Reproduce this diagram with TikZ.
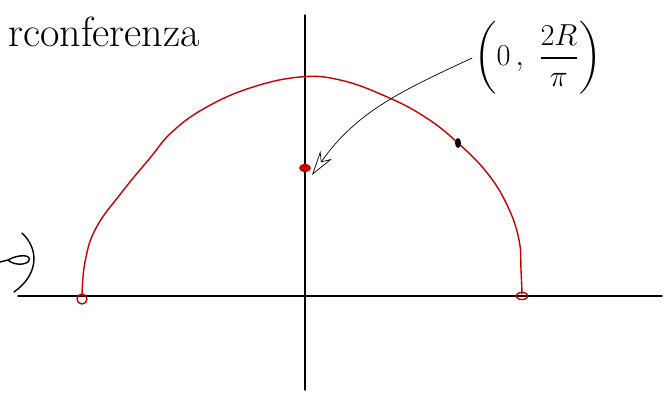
\documentclass[tikz,border=0pt]{standalone}
\usepackage{amsmath}
\usetikzlibrary{arrows.meta}
\definecolor{penred}{RGB}{200,0,0}
\begin{document}
\begin{tikzpicture}[x=0.02cm, y=-0.02cm, line cap=round, line join=round]

% -----------------------
% Parameters
% -----------------------
\def\W{671}      % width of the sheet
\def\H{398}      % height of the sheet
\def\xo{305}     % position of the vertical axis
\def\yo{296}     % position of the horizontal axis

\useasboundingbox (0,0) rectangle (\W,\H);

% -----------------------
% Axes
% -----------------------
\draw[thick] (18,\yo) -- (662,\yo);
\draw[thick] (\xo,15) -- (\xo,390);

% -----------------------
% Half circle (red)
% -----------------------
\draw[penred, thick] plot[smooth, tension=0.7] coordinates {
  (82,296) (85,262) (96,228) (122,192) (150,158) (172,132)
  (205,108) (250,88) (300,77) (340,80) (385,96) (425,117)
  (458,143) (488,174) (508,207) (519,240) (521,270) (522,294)};

% end points on the axis
\draw[penred, thick] (82,299) circle (5);
\draw[penred, thick] (522,296) ellipse (6 and 3.5);

% -----------------------
% Centre of mass and point on the arc
% -----------------------
\coordinate (cm) at (\xo,168);
\fill[penred] (cm) ellipse (6 and 4);
\fill (458,143) ellipse (3 and 5);

% -----------------------
% Labels
% -----------------------
\node[anchor=west, font=\fontsize{24}{28}\selectfont] (title) at (2,32) {rconferenza};
\node[font=\fontsize{18}{22}\selectfont, inner sep=1pt] (cmlabel) at (538,58)
  {$\left(0\,,\ \dfrac{2R}{\pi}\right)$};

\draw[-{Stealth[open, length=14pt, width=8pt]}, thin]
  (cmlabel.west) to[out=205, in=55] ([xshift=4pt, yshift=-4pt]cm);

% cut-off scribble at the left edge
\draw[thick] (22,233) .. controls (40,250) and (38,275) .. (14,292);
\draw[thick] (0,262) -- (8,260) .. controls (18,254) and (34,254) .. (28,262)
  .. controls (22,266) and (12,264) .. (8,260);

\end{tikzpicture}
\end{document}
